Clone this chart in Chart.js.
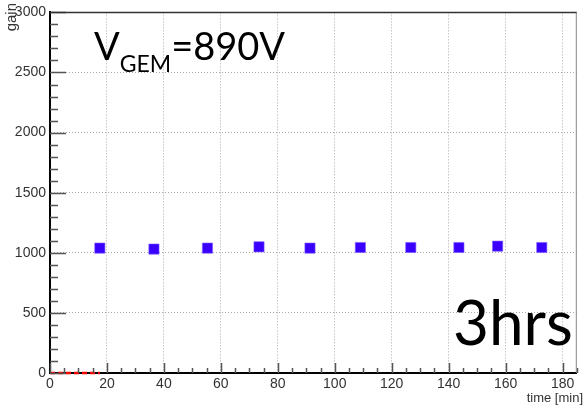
<!DOCTYPE html>
<html>
<head>
<meta charset="utf-8">
<script src="https://cdn.jsdelivr.net/npm/chart.js@4"></script>
<style>
  html, body { margin: 0; padding: 0; background: #fff; }
  #wrap { width: 585px; height: 408px; position: relative; }
</style>
</head>
<body>
<div id="wrap"><canvas id="gainChart"></canvas></div>
<script>
// measured points
const timeMin = [17.5, 36.5, 55.3, 73.4, 91.3, 109.0, 126.7, 143.6, 157.2, 172.7];
const gain = [1039, 1031, 1039, 1050, 1039, 1044, 1044, 1044, 1055, 1044];
// red dashed stub along the x axis
const redX = [0, 17.5];
const redY = [0, 0];
const xMajor = [0, 20, 40, 60, 80, 100, 120, 140, 160, 180];
const yMajor = [0, 500, 1000, 1500, 2000, 2500, 3000];

const TICK_FONT = { family: '"Liberation Sans", Arial, sans-serif', size: 14 };

// ROOT style: ticks pointing inside the frame, frame, labels
const rootFrame = {
  id: 'rootFrame',
  afterDraw(chart) {
    const { ctx, chartArea: a, scales: { x, y } } = chart;
    ctx.save();
    ctx.strokeStyle = '#555';
    ctx.lineWidth = 1.5;
    ctx.beginPath();
    for (let v = 0; v <= 185; v += 5) {
      const px = Math.round(x.getPixelForValue(v)) + 0.5;
      const len = v % 20 === 0 ? 10 : 5;
      ctx.moveTo(px, a.bottom);
      ctx.lineTo(px, a.bottom - len);
    }
    for (let v = 0; v <= 3000; v += 100) {
      const py = Math.round(y.getPixelForValue(v)) + 0.5;
      const len = v % 500 === 0 ? 16 : 8;
      ctx.moveTo(a.left, py);
      ctx.lineTo(a.left + len, py);
    }
    ctx.stroke();

    // top and right frame
    ctx.strokeStyle = '#333';
    ctx.lineWidth = 1.5;
    ctx.beginPath();
    ctx.moveTo(a.left, a.top);
    ctx.lineTo(a.right, a.top);
    ctx.stroke();
    ctx.strokeStyle = '#888';
    ctx.lineWidth = 1;
    ctx.beginPath();
    ctx.moveTo(a.right - 0.5, a.top);
    ctx.lineTo(a.right - 0.5, a.bottom);
    ctx.stroke();

    // axis titles
    ctx.fillStyle = '#333';
    ctx.font = '13px "Liberation Sans", Arial, sans-serif';
    ctx.textAlign = 'right';
    ctx.textBaseline = 'alphabetic';
    ctx.fillText('time [min]', 583, 402);
    ctx.save();
    ctx.translate(16, 3);
    ctx.rotate(-Math.PI / 2);
    ctx.font = '15px "Liberation Sans", Arial, sans-serif';
    ctx.fillText('gain', 0, 0);
    ctx.restore();

    // annotations
    ctx.fillStyle = '#000';
    ctx.textAlign = 'left';
    ctx.font = '38px Lato, sans-serif';
    ctx.fillText('V', 94, 60);
    let cx = 94 + ctx.measureText('V').width;
    ctx.font = '23px Lato, sans-serif';
    ctx.fillText('GEM', cx, 72);
    cx += ctx.measureText('GEM').width;
    ctx.font = '38px Lato, sans-serif';
    ctx.fillText('=890V', cx, 60);

    ctx.font = '62px Lato, sans-serif';
    ctx.fillText('3hrs', 453, 345);
    ctx.restore();
  }
};

new Chart(document.getElementById('gainChart'), {
  type: 'scatter',
  data: {
    datasets: [
      {
        label: 'gain',
        data: timeMin.map((t, i) => ({ x: t, y: gain[i] })),
        pointStyle: 'rect',
        pointRadius: 7.2,
        backgroundColor: '#3a00ff',
        borderColor: 'rgba(120, 90, 255, 0.6)',
        borderWidth: 1
      },
      {
        label: 'stub',
        data: redX.map((t, i) => ({ x: t, y: redY[i] })),
        showLine: true,
        clip: 5,
        pointRadius: 0,
        borderColor: '#ff0000',
        borderWidth: 2.5,
        borderDash: [5, 3]
      }
    ]
  },
  options: {
    responsive: true,
    maintainAspectRatio: false,
    animation: false,
    layout: { padding: { top: 10, right: 1, left: 0, bottom: 0 } },
    plugins: { legend: { display: false }, tooltip: { enabled: false } },
    scales: {
      x: {
        type: 'linear',
        min: 0,
        max: 185,
        afterBuildTicks: s => { s.ticks = xMajor.map(v => ({ value: v })); },
        afterFit: s => { s.height = 35; },
        ticks: { font: TICK_FONT, color: '#333', padding: 3, maxRotation: 0, callback: v => String(v) },
        grid: { color: '#aaa', lineWidth: 1, drawTicks: false },
        border: { color: '#000', width: 2, dash: [1, 2] }
      },
      y: {
        min: 0,
        max: 3000,
        afterBuildTicks: s => { s.ticks = yMajor.map(v => ({ value: v })); },
        afterFit: s => { s.width = 50; },
        ticks: { font: TICK_FONT, color: '#333', padding: 4, callback: v => String(v) },
        grid: { color: '#aaa', lineWidth: 1, drawTicks: false },
        border: { color: '#000', width: 2, dash: [1, 2] }
      }
    }
  },
  plugins: [rootFrame]
});
</script>
</body>
</html>
